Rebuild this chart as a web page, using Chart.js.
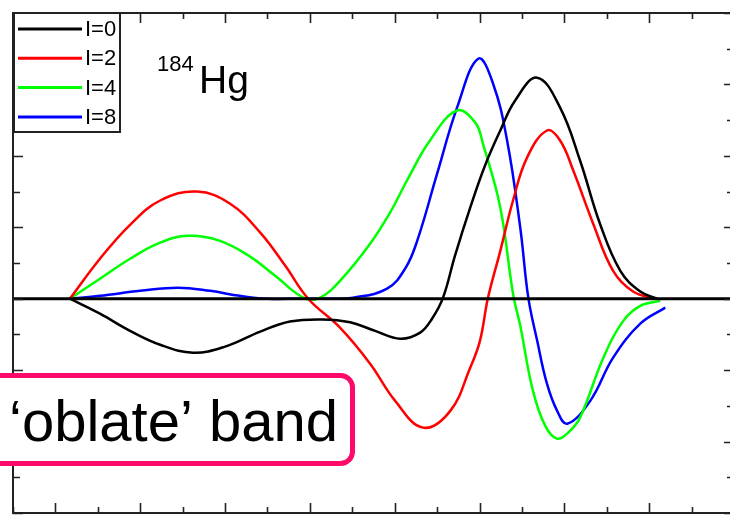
<!DOCTYPE html>
<html>
<head>
<meta charset="utf-8">
<script src="https://cdn.jsdelivr.net/npm/chart.js@4/dist/chart.umd.min.js"></script>
<style>
  html, body { margin: 0; padding: 0; background: #fff; overflow: hidden; }
  #wrap { position: relative; width: 740px; height: 516px; }
</style>
</head>
<body>
<div id="wrap"><canvas id="hgChart"></canvas></div>
<script>
// series names and colours
const seriesLabels = ["I=0", "I=2", "I=4", "I=8"];
const seriesColors = ["#000000", "#ff0000", "#00ff00", "#0000ff"];

// axis ranges (one unit per minor tick)
const xMin = 0, xMax = 17;
const yMin = -6, yMax = 8;

// I=0
const xI0 = [1.34, 2.05, 2.76, 3.47, 4.25, 5.00, 5.83, 6.53, 7.29, 7.95, 8.54, 9.13, 9.60, 9.88,
             10.14, 10.42, 10.78, 11.13, 11.49, 11.84, 12.36, 12.90, 13.37, 13.84, 14.32, 14.79, 15.19];
const yI0 = [0, -0.42, -0.90, -1.29, -1.51, -1.34, -0.92, -0.64, -0.58, -0.66, -0.90, -1.12, -0.95, -0.56,
             0.03, 1.20, 2.55, 3.73, 4.71, 5.55, 6.19, 5.35, 3.87, 2.10, 0.78, 0.20, 0];

// I=2
const xI2 = [1.34, 2.05, 2.76, 3.47, 4.34, 5.12, 5.83, 6.42, 6.96, 7.71, 8.42, 9.01, 9.67, 10.31,
             10.78, 11.01, 11.20, 11.49, 11.79, 12.12, 12.59, 12.90, 13.21, 13.68, 14.15, 14.62, 15.14];
const yI2 = [0, 1.12, 2.07, 2.75, 3.00, 2.66, 1.85, 0.92, 0, -0.81, -1.82, -2.86, -3.61, -3.14,
             -1.93, -1.18, 0.03, 1.34, 2.75, 3.95, 4.71, 4.43, 3.59, 2.10, 0.78, 0.20, 0];

// I=4
const xI4 = [1.34, 2.05, 2.76, 3.47, 4.13, 4.88, 5.59, 6.18, 6.89, 7.24, 7.71, 8.42, 8.89, 9.29, 9.83,
             10.47, 10.90, 11.08, 11.49, 11.79, 11.96, 12.26, 12.55, 12.83, 13.09, 13.37, 13.92, 14.39, 14.79, 15.26];
const yI4 = [0, 0.56, 1.12, 1.57, 1.76, 1.62, 1.18, 0.64, 0, 0.03, 0.50, 1.54, 2.41, 3.31, 4.43,
             5.27, 4.93, 4.34, 2.55, 0.14, -0.76, -2.58, -3.56, -3.92, -3.75, -3.33, -1.65, -0.62, -0.20, -0.06];

// I=8
const xI8 = [1.34, 2.05, 3.00, 3.89, 4.65, 5.35, 5.99, 6.77, 7.48, 8.02, 8.82, 9.25, 9.53, 10.00,
             10.47, 10.97, 11.32, 11.65, 11.96, 12.15, 12.36, 12.59, 12.83, 13.07, 13.61, 14.15, 14.79, 15.38];
const yI8 = [0, 0.08, 0.22, 0.31, 0.22, 0.08, 0, 0, 0, 0.03, 0.28, 0.85, 1.62, 3.50,
             5.35, 6.72, 6.02, 4.43, 1.99, 0.03, -1.18, -2.38, -3.14, -3.50, -2.86, -1.65, -0.70, -0.25];

const xs = [xI0, xI2, xI4, xI8];
const ys = [yI0, yI2, yI4, yI8];

const FONT = "'Liberation Sans', Arial, sans-serif";

// frame, inward ticks, zero line, legend box and annotations
const frameAndNotes = {
  id: "frameAndNotes",
  afterDatasetsDraw(chart) {
    const { ctx, chartArea: a, scales: { x, y } } = chart;
    ctx.save();

    const y0 = y.getPixelForValue(0);
    ctx.strokeStyle = "#000";
    ctx.lineWidth = 3;
    ctx.beginPath();
    ctx.moveTo(a.left, y0);
    ctx.lineTo(a.right, y0);
    ctx.stroke();

    ctx.strokeStyle = "#222";
    ctx.lineWidth = 2;
    ctx.strokeRect(a.left, a.top, a.right - a.left, a.bottom - a.top);

    ctx.lineWidth = 1.6;
    ctx.beginPath();
    for (let v = xMin; v <= xMax; v++) {
      const px = Math.round(x.getPixelForValue(v)) + 0.5;
      const len = Math.abs(v % 2) === 1 ? 10 : 6;
      ctx.moveTo(px, a.top); ctx.lineTo(px, a.top + len);
      ctx.moveTo(px, a.bottom); ctx.lineTo(px, a.bottom - len);
    }
    for (let v = yMin; v <= yMax; v++) {
      const py = Math.round(y.getPixelForValue(v)) + 0.5;
      const len = Math.abs(v % 2) === 0 ? 10 : 7;
      ctx.moveTo(a.left, py); ctx.lineTo(a.left + len, py);
      ctx.moveTo(a.right, py); ctx.lineTo(a.right - len, py);
    }
    ctx.stroke();

    // legend
    ctx.fillStyle = "#fff";
    ctx.fillRect(14, 13, 106, 119);
    ctx.strokeStyle = "#222";
    ctx.lineWidth = 2;
    ctx.strokeRect(14, 13, 106, 119);
    ctx.font = "22px " + FONT;
    ctx.textBaseline = "middle";
    chart.data.datasets.forEach((ds, i) => {
      const ly = 29 + i * 29.3;
      ctx.strokeStyle = ds.borderColor;
      ctx.lineWidth = 3;
      ctx.beginPath();
      ctx.moveTo(18, ly);
      ctx.lineTo(82, ly);
      ctx.stroke();
      ctx.fillStyle = "#000";
      ctx.fillText(ds.label, 85, ly + 1);
    });

    // nucleus label
    ctx.textBaseline = "alphabetic";
    ctx.fillStyle = "#000";
    ctx.font = "22px " + FONT;
    ctx.fillText("184", 157, 71);
    ctx.font = "39px " + FONT;
    ctx.fillText("Hg", 199, 93);

    // band label
    ctx.beginPath();
    ctx.roundRect(-20, 375.5, 372.5, 88, 12);
    ctx.fillStyle = "#fff";
    ctx.fill();
    ctx.strokeStyle = "#ff0a68";
    ctx.lineWidth = 5;
    ctx.stroke();
    ctx.fillStyle = "#000";
    ctx.font = "58px " + FONT;
    ctx.fillText("\u2018oblate\u2019 band", 9, 441);

    ctx.restore();
  }
};

new Chart(document.getElementById("hgChart"), {
  type: "line",
  data: {
    datasets: seriesLabels.map((label, i) => ({
      label: label,
      data: xs[i].map((xv, j) => ({ x: xv, y: ys[i][j] })),
      borderColor: seriesColors[i],
      borderWidth: 2.5,
      pointRadius: 0,
      fill: false,
      tension: 0.4
    }))
  },
  options: {
    responsive: true,
    maintainAspectRatio: false,
    animation: false,
    layout: { padding: { left: 13, top: 13, right: 6, bottom: 3 } },
    plugins: { legend: { display: false }, tooltip: { enabled: false } },
    scales: {
      x: { type: "linear", min: xMin, max: xMax, display: false },
      y: { type: "linear", min: yMin, max: yMax, display: false }
    }
  },
  plugins: [frameAndNotes]
});
</script>
</body>
</html>
